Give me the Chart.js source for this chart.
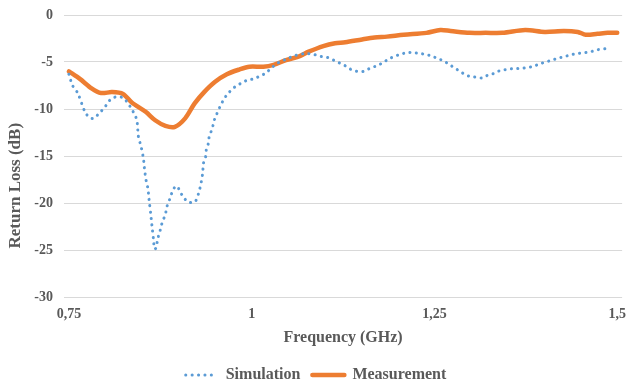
<!DOCTYPE html>
<html>
<head>
<meta charset="utf-8">
<script src="https://cdn.jsdelivr.net/npm/chart.js@4/dist/chart.umd.min.js"></script>
<style>
html,body{margin:0;padding:0;background:#fff;}
#wrap{width:635px;height:383px;position:relative;}
</style>
</head>
<body>
<div id="wrap"><canvas id="c" width="635" height="383"></canvas></div>
<script>
const xTicks = [0.75, 1, 1.25, 1.5];
const yTicks = [0, -5, -10, -15, -20, -25, -30];

const simFreq = [0.750,0.755,0.762,0.772,0.778,0.784,0.792,0.797,0.802,0.808,0.816,0.824,0.829,0.835,0.840,0.843,0.844,0.845,0.849,0.852,0.853,0.856,0.858,0.859,0.860,0.862,0.863,0.864,0.866,0.867,0.870,0.871,0.874,0.876,0.879,0.882,0.884,0.887,0.890,0.894,0.898,0.902,0.907,0.913,0.922,0.926,0.929,0.931,0.933,0.934,0.937,0.938,0.941,0.942,0.945,0.948,0.950,0.953,0.957,0.961,0.966,0.972,0.978,0.987,0.995,1.003,1.011,1.019,1.026,1.036,1.047,1.060,1.074,1.085,1.094,1.103,1.112,1.120,1.128,1.136,1.144,1.153,1.161,1.171,1.179,1.187,1.195,1.203,1.212,1.220,1.230,1.239,1.247,1.257,1.265,1.273,1.281,1.289,1.297,1.305,1.315,1.323,1.332,1.340,1.348,1.358,1.367,1.375,1.384,1.394,1.402,1.411,1.419,1.429,1.438,1.446,1.456,1.464,1.473,1.483,1.491];
const simLoss = [-6.3,-7.5,-8.3,-10.3,-10.9,-11.0,-10.4,-10.0,-9.5,-8.9,-8.7,-8.8,-9.2,-9.9,-10.6,-11.2,-12.0,-12.9,-14.1,-15.3,-16.1,-17.8,-18.4,-19.1,-19.9,-21.2,-22.0,-22.7,-24.1,-24.9,-24.7,-23.9,-23.2,-22.5,-21.8,-21.2,-20.4,-19.8,-19.1,-18.4,-18.2,-18.8,-19.4,-19.9,-19.9,-19.3,-18.5,-17.8,-16.8,-15.8,-15.1,-14.3,-13.6,-12.9,-12.3,-11.5,-10.9,-10.4,-9.7,-9.1,-8.5,-8.0,-7.6,-7.2,-6.9,-6.8,-6.5,-6.2,-5.7,-5.1,-4.7,-4.3,-4.1,-4.2,-4.4,-4.5,-4.8,-5.1,-5.4,-5.8,-6.0,-6.0,-5.7,-5.4,-5.1,-4.7,-4.4,-4.2,-4.0,-4.0,-4.1,-4.2,-4.4,-4.7,-5.0,-5.4,-5.8,-6.2,-6.5,-6.6,-6.7,-6.4,-6.2,-5.9,-5.8,-5.7,-5.7,-5.6,-5.5,-5.2,-5.0,-4.8,-4.6,-4.4,-4.2,-4.1,-4.0,-3.9,-3.7,-3.6,-3.5];

const measFreq = [0.750,0.765,0.781,0.794,0.809,0.824,0.836,0.855,0.868,0.882,0.895,0.909,0.922,0.935,0.950,0.966,0.983,0.997,1.016,1.030,1.047,1.065,1.078,1.098,1.114,1.128,1.151,1.168,1.185,1.208,1.239,1.258,1.272,1.298,1.320,1.343,1.374,1.401,1.427,1.446,1.457,1.473,1.487,1.500];
const measLoss = [-6.0,-6.8,-7.8,-8.3,-8.2,-8.4,-9.3,-10.3,-11.2,-11.8,-11.9,-11.0,-9.4,-8.2,-7.1,-6.3,-5.8,-5.5,-5.5,-5.3,-4.8,-4.4,-3.9,-3.3,-3.0,-2.9,-2.6,-2.4,-2.3,-2.1,-1.9,-1.6,-1.7,-1.9,-1.9,-1.9,-1.6,-1.8,-1.7,-1.8,-2.1,-2.0,-1.9,-1.9];

const seriesNames = ['Simulation', 'Measurement'];
const xTitle = 'Frequency (GHz)';
const yTitle = 'Return Loss (dB)';

const toPts = (xs, ys) => xs.map((x, i) => ({x: x, y: ys[i]}));
const fmt = v => String(v).replace('.', ',');

const FONT = "'Liberation Serif', 'Times New Roman', serif";
const GREY = '#595959';
const BLUE = '#5B9BD5';
const ORANGE = '#ED7D31';
const SIM_DASH = [0.1, 6.3];

new Chart(document.getElementById('c'), {
  type: 'line',
  data: {
    datasets: [
      {
        label: seriesNames[0],
        data: toPts(simFreq, simLoss),
        borderColor: BLUE,
        backgroundColor: BLUE,
        borderWidth: 3,
        borderDash: SIM_DASH,
        borderCapStyle: 'round',
        pointRadius: 0,
        tension: 0.3,
        fill: false
      },
      {
        label: seriesNames[1],
        data: toPts(measFreq, measLoss),
        borderColor: ORANGE,
        backgroundColor: ORANGE,
        borderWidth: 4.5,
        borderCapStyle: 'round',
        borderJoinStyle: 'round',
        pointRadius: 0,
        tension: 0.3,
        fill: false
      }
    ]
  },
  options: {
    responsive: false,
    animation: false,
    devicePixelRatio: 1,
    layout: { padding: { left: 0, right: 3, top: 15, bottom: -10 } },
    plugins: {
      legend: {
        position: 'bottom',
        labels: {
          usePointStyle: true,
          pointStyleWidth: 32,
          boxHeight: 10,
          padding: 12,
          color: GREY,
          font: { family: FONT, size: 16, weight: 'bold' },
          generateLabels: chart => chart.data.datasets.map((ds, i) => ({
            text: ds.label,
            datasetIndex: i,
            fillStyle: ds.borderColor,
            strokeStyle: ds.borderColor,
            fontColor: GREY,
            lineWidth: ds.borderWidth,
            lineDash: ds.borderDash || [],
            lineCap: 'round',
            pointStyle: 'line',
            hidden: false
          }))
        }
      },
      tooltip: { enabled: false }
    },
    scales: {
      x: {
        type: 'linear',
        min: 0.7433,
        max: 1.5067,
        afterBuildTicks: s => { s.ticks = xTicks.map(v => ({value: v})); },
        afterFit: s => { s.height = 58; },
        grid: { display: false, drawTicks: false },
        border: { display: false },
        ticks: {
          padding: 9,
          color: GREY,
          font: { family: FONT, size: 14, weight: 'bold' },
          maxRotation: 0,
          autoSkip: false,
          callback: v => fmt(v)
        },
        title: {
          display: true,
          text: xTitle,
          color: GREY,
          padding: { top: 4, bottom: 8 },
          font: { family: FONT, size: 16, weight: 'bold' }
        }
      },
      y: {
        min: -30,
        max: 0,
        afterBuildTicks: s => { s.ticks = yTicks.map(v => ({value: v})); },
        afterFit: s => { s.width = 64; s.paddingTop = 0; s.paddingBottom = 0; },
        grid: { color: '#d9d9d9', lineWidth: 1, drawTicks: false },
        border: { display: false },
        ticks: {
          padding: 11,
          color: GREY,
          font: { family: FONT, size: 14, weight: 'bold' },
          callback: v => fmt(v)
        },
        title: {
          display: true,
          text: yTitle + '              ',
          color: GREY,
          padding: { top: 5, bottom: 0 },
          font: { family: FONT, size: 17, weight: 'bold' }
        }
      }
    }
  }
});
</script>
</body>
</html>
